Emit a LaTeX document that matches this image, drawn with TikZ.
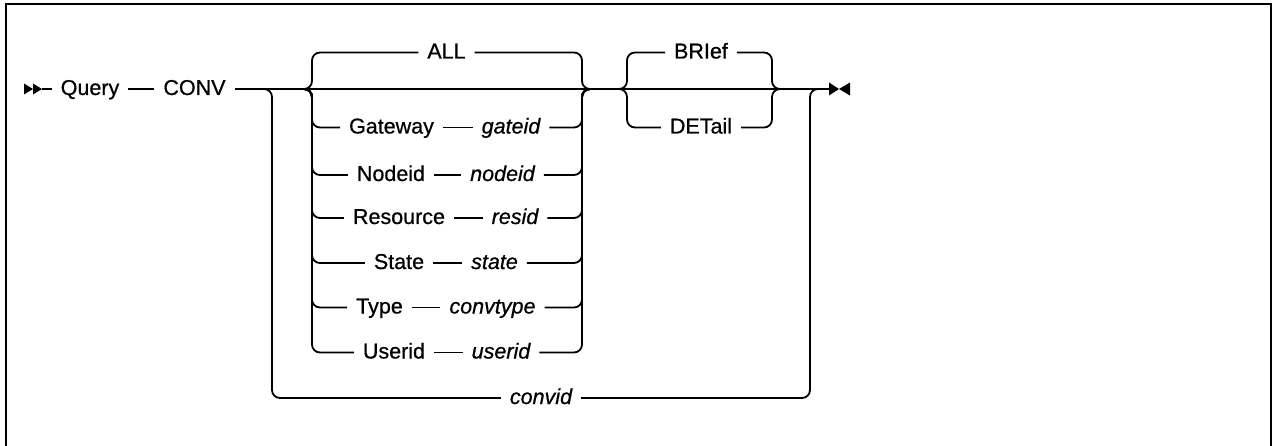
\documentclass[tikz,border=0pt]{standalone}
\usepackage{fontspec}
\setmainfont{Liberation Sans}[BoldFont=Liberation Sans,BoldFeatures={FakeBold=0.7},BoldItalicFont=Liberation Sans Italic,BoldItalicFeatures={FakeBold=0.7}]
\begin{document}
\begin{tikzpicture}[x=1pt,y=-1pt,line width=1.8pt,
  lbl/.style={inner xsep=0pt,inner ysep=0pt,outer xsep=9pt,text height=13.5pt,text depth=1.5pt,font=\fontsize{21.5}{25}\selectfont\bfseries},
  var/.style={lbl,font=\fontsize{21.5}{25}\selectfont\bfseries\itshape},
  rc/.style={rounded corners=8pt},
  tipfill/.style={fill=black,draw=none}]
\useasboundingbox (0,0) rectangle (1274,446);
% frame
\draw[line width=2.5pt] (6,450) -- (6,4) -- (1271,4) -- (1271,450);

% main nodes
\node[lbl] (query) at (90,89) {Query};
\node[lbl] (conv) at (194.5,89) {CONV};
\coordinate (s) at (42,89);
\coordinate (e) at (829,89);

% junctions
\coordinate (bL) at (262,89);
\coordinate (bV) at (272,89);
\coordinate (bR) at (810,89);
\coordinate (bR2) at (820,89);
\coordinate (jA) at (304,89);
\coordinate (lA) at (312,89);
\coordinate (rA) at (582,89);
\coordinate (jB) at (590,89);
\coordinate (jC) at (619,89);
\coordinate (lC) at (627,89);
\coordinate (rC) at (772,89);
\coordinate (jD) at (780,89);

% start / end markers
\fill[tipfill] (24,83.5) -- (33,89) -- (24,94.5) -- cycle;
\fill[tipfill] (33,83.5) -- (42,89) -- (33,94.5) -- cycle;
\fill[tipfill] (829,82.5) -- (839,89) -- (829,95.5) -- cycle;
\fill[tipfill] (850,82.5) -- (839,89) -- (850,95.5) -- cycle;

\draw (s) -- (query.west);
\draw (query.east) -- (conv.west);
\draw (conv.east) -- (e);

% first group
\node[lbl] (all) at (446.5,52.5) {ALL};
\node[lbl] (gw) at (391.5,127.5) {Gateway};
\node[var] (gwv) at (511,127.5) {gateid};
\node[lbl] (nd) at (391,175) {Nodeid};
\node[var] (ndv) at (502.5,175) {nodeid};
\node[lbl] (rs) at (399,218) {Resource};
\node[var] (rsv) at (515,218) {resid};
\node[lbl] (st) at (399,263) {State};
\node[var] (stv) at (494.5,263) {state};
\node[lbl] (ty) at (379.5,307.5) {Type};
\node[var] (tyv) at (492.5,307.5) {convtype};
\node[lbl] (us) at (394,352.5) {Userid};
\node[var] (usv) at (501,352.5) {userid};

\draw[rc] (jA) -- (lA) |- (all.west);
\draw[rc] (all.east) -| (rA) -- (jB);
\foreach \k/\v in {gw/gwv,nd/ndv,rs/rsv,st/stv,ty/tyv,us/usv}{
  \draw[rc] (jA) -- (lA) |- (\k.west);
  \draw (\k.east) -- (\v.west);
  \draw[rc] (\v.east) -| (rA) -- (jB);
}

% second group
\node[lbl] (brief) at (701,52.5) {BRIef};
\node[lbl] (detail) at (701,127.5) {DETail};
\draw[rc] (jC) -- (lC) |- (brief.west);
\draw[rc] (brief.east) -| (rC) -- (jD);
\draw[rc] (jC) -- (lC) |- (detail.west);
\draw[rc] (detail.east) -| (rC) -- (jD);

% convid branch
\node[var] (convid) at (541,398) {convid};
\draw[rc] (bL) -- (bV) |- (convid.west);
\draw[rc] (convid.east) -| (bR) -- (bR2);
\end{tikzpicture}
\end{document}
